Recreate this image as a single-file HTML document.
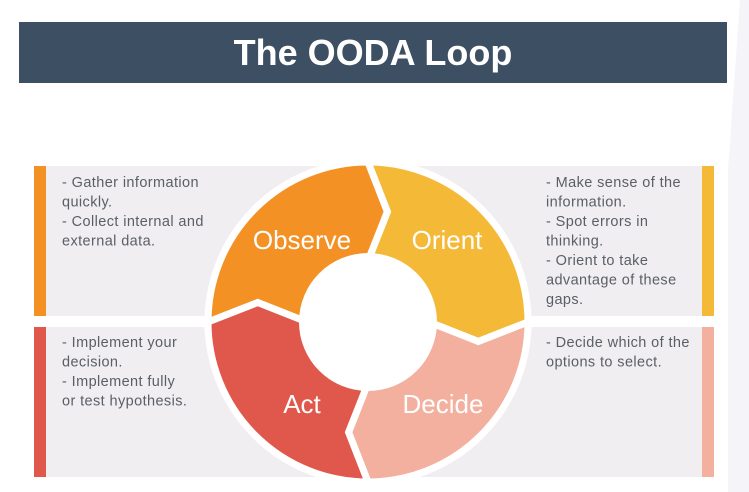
<!DOCTYPE html>
<html><head><meta charset="utf-8"><style>
html,body{margin:0;padding:0;width:749px;height:492px;overflow:hidden;background:#fff;font-family:"Liberation Sans",sans-serif}
</style></head><body>
<svg id="svg" width="749" height="492" viewBox="0 0 749 492" xmlns="http://www.w3.org/2000/svg">
<polygon points="760,0 749,0 749,492 728,492 728,170 740,0" fill="#f5f5f9"/>
<rect x="19" y="22" width="708" height="61" fill="#3d4f63"/>
<text x="373" y="65" text-anchor="middle" font-size="36" font-weight="bold" fill="#fff">The OODA Loop</text>
<rect x="34" y="166" width="340" height="150" fill="#f0eef1"/>
<rect x="34" y="327" width="340" height="150" fill="#f0eef1"/>
<rect x="374" y="166" width="340" height="150" fill="#f0eef1"/>
<rect x="374" y="327" width="340" height="150" fill="#f0eef1"/>
<rect x="34" y="166" width="12" height="150" fill="#f39125"/>
<rect x="34" y="327" width="12" height="150" fill="#e0584b"/>
<rect x="702" y="166" width="12" height="150" fill="#f5b938"/>
<rect x="702" y="327" width="12" height="150" fill="#f4b09e"/>
<g font-size="14.5" fill="#5a5f66" letter-spacing="0.4">
<text x="62" y="187"><tspan x="62">- Gather information</tspan><tspan x="62" dy="19.5">quickly.</tspan><tspan x="62" dy="19.5">- Collect internal and</tspan><tspan x="62" dy="19.5">external data.</tspan></text>
<text x="62" y="347"><tspan x="62">- Implement your</tspan><tspan x="62" dy="19.5">decision.</tspan><tspan x="62" dy="19.5">- Implement fully</tspan><tspan x="62" dy="19.5">or test hypothesis.</tspan></text>
<text x="546" y="187"><tspan x="546">- Make sense of the</tspan><tspan x="546" dy="19.5">information.</tspan><tspan x="546" dy="19.5">- Spot errors in</tspan><tspan x="546" dy="19.5">thinking.</tspan><tspan x="546" dy="19.5">- Orient to take</tspan><tspan x="546" dy="19.5">advantage of these</tspan><tspan x="546" dy="19.5">gaps.</tspan></text>
<text x="546" y="347"><tspan x="546">- Decide which of the</tspan><tspan x="546" dy="19.5">options to select.</tspan></text>
</g>
<g id="wheel"></g>
<circle cx="368" cy="322" r="69" fill="#fff"/>
<g font-size="26" fill="#fff" text-anchor="middle">
<text x="302" y="249">Observe</text>
<text x="447" y="249">Orient</text>
<text x="443" y="413">Decide</text>
<text x="302" y="413">Act</text>
</g>
</svg>
<script>
const stages=['observe','orient','decide','act'];
const startAngles=[-90,0,90,180];
const colors=['#f39125','#f5b938','#f4b09e','#e0584b'];
const cx=368,cy=322,R=160,r=66,tipR=112,tipDeg=10;
function pt(rad,deg){const a=deg*Math.PI/180;return [cx+rad*Math.cos(a),cy+rad*Math.sin(a)];}
const g=document.getElementById('wheel');
stages.forEach((s,i)=>{
  const a0=startAngles[i]-90,a1=a0+90;
  const o0=pt(R,a0),o1=pt(R,a1),t1=pt(tipR,a1+tipDeg),i1=pt(r-5,a1),i0=pt(r-5,a0),t0=pt(tipR,a0+tipDeg);
  const d=`M${o0} A${R},${R} 0 0 1 ${o1} L${t1} L${i1} A${r-5},${r-5} 0 0 0 ${i0} L${t0} Z`;
  const p=document.createElementNS('http://www.w3.org/2000/svg','path');
  p.setAttribute('d',d);p.setAttribute('fill',colors[i]);p.setAttribute('stroke','#fff');p.setAttribute('stroke-width','7');p.setAttribute('stroke-linejoin','miter');
  
  
  g.appendChild(p);
});
</script>
</body></html>
